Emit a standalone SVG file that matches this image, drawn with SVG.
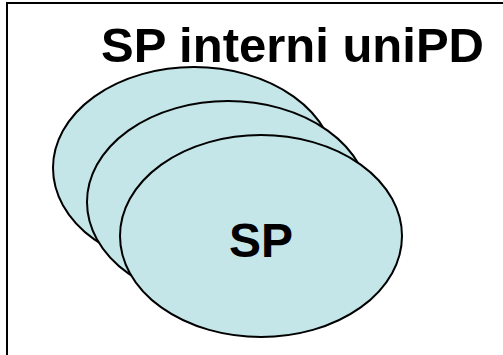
<svg xmlns="http://www.w3.org/2000/svg" width="503" height="355" viewBox="0 0 503 355">
  <style>
    .frame { fill: none; stroke: #000; stroke-width: 2; }
    .sp { fill: #C4E6E8; stroke: #000; stroke-width: 2; }
    .label { font-family: "Liberation Sans", Arial, sans-serif; font-weight: bold; font-size: 48px; fill: #000; }
    .title { font-size: 49px; }
  </style>
  <rect width="503" height="355" fill="#fff"/>
  <!-- open frame: top and left edges only -->
  <path class="frame" d="M7,355 V3 H503"/>
  <text class="label title" x="101" y="62">SP interni uniPD</text>
  <g id="sp-back">
    <ellipse class="sp" cx="194" cy="168" rx="141" ry="101"/>
  </g>
  <g id="sp-middle">
    <ellipse class="sp" cx="228" cy="202" rx="141" ry="101"/>
  </g>
  <g id="sp-front">
    <ellipse class="sp" cx="261" cy="236" rx="141" ry="101"/>
    <text class="label" x="261" y="257" text-anchor="middle">SP</text>
  </g>
  <g id="connectors"/>
</svg>
